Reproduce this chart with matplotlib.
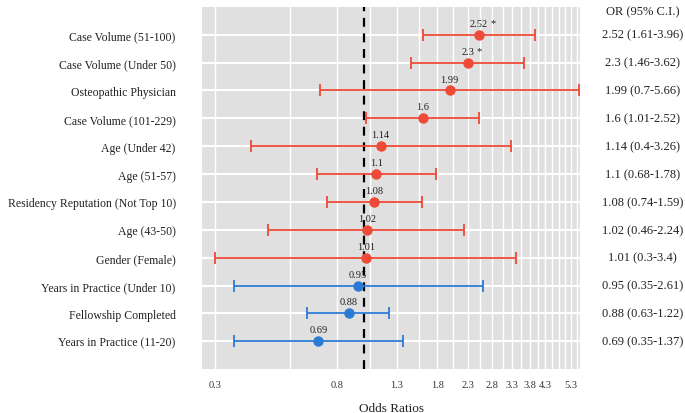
import numpy as np
import matplotlib
matplotlib.use("Agg")
import matplotlib.pyplot as plt
import matplotlib.transforms as mtransforms

plt.rcParams['font.family'] = ['Liberation Serif', 'DejaVu Serif']

## data
labels = ["Case Volume (51-100)", "Case Volume (Under 50)", "Osteopathic Physician",
          "Case Volume (101-229)", "Age (Under 42)", "Age (51-57)",
          "Residency Reputation (Not Top 10)", "Age (43-50)", "Gender (Female)",
          "Years in Practice (Under 10)", "Fellowship Completed", "Years in Practice (11-20)"]
odds = [2.52, 2.3, 1.99, 1.6, 1.14, 1.1, 1.08, 1.02, 1.01, 0.95, 0.88, 0.69]
ci_lo = [1.61, 1.46, 0.7, 1.01, 0.4, 0.68, 0.74, 0.46, 0.3, 0.35, 0.63, 0.35]
ci_hi = [3.96, 3.62, 5.66, 2.52, 3.26, 1.78, 1.59, 2.24, 3.4, 2.61, 1.22, 1.37]
signif = [True, True, False, False, False, False, False, False, False, False, False, False]

xticks = [0.3, 0.8, 1.3, 1.8, 2.3, 2.8, 3.3, 3.8, 4.3, 4.8, 5.3]
xticklabels = ["0.3", "0.8", "1.3", "1.8", "2.3", "2.8", "3.3", "3.8", "4.3", "", "5.3"]
xminor = np.arange(0.3, 5.7, 0.25)

red = "#EE4A37"
blue = "#2B7BD4"

fig = plt.figure(figsize=(6.85, 4.14), dpi=100)
ax = fig.add_axes([0.295, 0.106, 0.552, 0.875])
ax.set_facecolor("#E0E0E0")
for s in ax.spines.values():
    s.set_visible(False)

ax.set_xscale("log")
ax.set_xlim(0.27, 5.7)
ax.set_ylim(13, 0)

# grid
for xv in xminor:
    ax.axvline(xv, color="white", lw=1.0, zorder=1)
ypos = np.arange(1, len(labels) + 1)
for yv in ypos:
    ax.axhline(yv, color="white", lw=1.5, zorder=1)

ax.set_xticks(xticks)
ax.set_xticklabels(xticklabels, fontsize=7.5, color="#333333")
ax.xaxis.set_minor_locator(matplotlib.ticker.NullLocator())
ax.tick_params(axis="x", length=0, pad=8)
ax.set_yticks(ypos)
ax.set_yticklabels(labels, fontsize=8.5, color="#222222")
ax.tick_params(axis="y", length=0, pad=19)
ax.set_xlabel("Odds Ratios", fontsize=9.5, labelpad=9, color="#222222")

# value labels
for y, v, sg in zip(ypos, odds, signif):
    t = ax.annotate(f"{v:g}", xy=(v, y), xytext=(0, 5), textcoords="offset points",
                    ha="center", va="bottom", fontsize=7.5, color="#222222", zorder=3)
    if sg:
        ax.annotate("*", xy=(1, 0.55), xycoords=t, xytext=(1.5, 0), textcoords="offset points",
                    ha="left", va="center", fontsize=7.5, color="#222222", zorder=3)

ax.axvline(1.0, color="black", lw=1.6, ls=(0, (4, 3)), zorder=4)

for y, v, lo, hi in zip(ypos, odds, ci_lo, ci_hi):
    c = red if v > 1 else blue
    ax.errorbar(v, y, xerr=[[v - lo], [hi - v]], fmt="o", color=c, ms=6.5,
                elinewidth=1.3, capsize=4.5, capthick=1.3, zorder=5, clip_on=False)

# OR column on the right
trans = mtransforms.blended_transform_factory(fig.transFigure, ax.transData)
ax.text(0.938, 0.16, "OR (95% C.I.)", transform=trans, ha="center", va="center",
        fontsize=9, color="#222222")
for y, v, lo, hi in zip(ypos, odds, ci_lo, ci_hi):
    ax.text(0.938, y, f"{v:g} ({lo:g}-{hi:g})", transform=trans, ha="center",
            va="center", fontsize=9, color="#222222")

fig.savefig("out.png", dpi=100)
